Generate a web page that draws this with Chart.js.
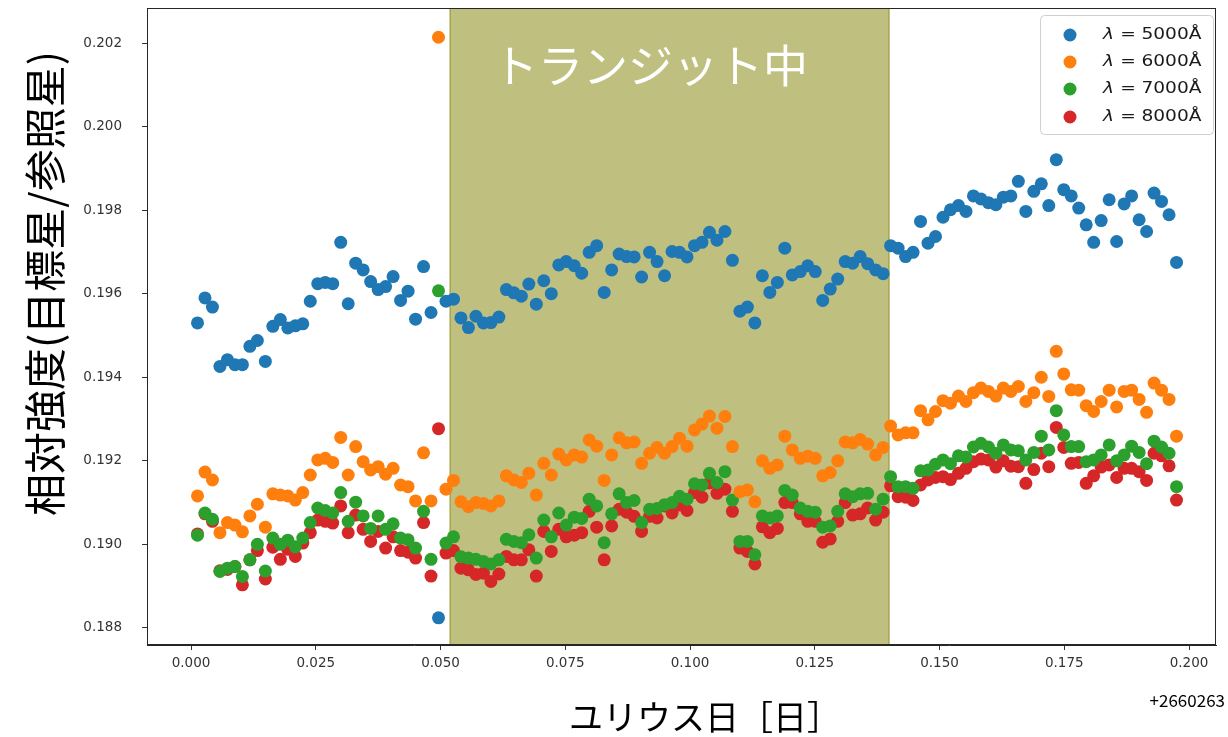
<!DOCTYPE html>
<html>
<head>
<meta charset="utf-8">
<script src="https://cdn.jsdelivr.net/npm/chart.js@4/dist/chart.umd.min.js"></script>
<style>
  html, body { margin: 0; padding: 0; background: #ffffff; }
  #wrap { width: 1228px; height: 737px; }
</style>
</head>
<body>
<div id="wrap"><canvas id="c" width="1228" height="737"></canvas></div>
<script>
// Observation times (JD - 2460263)
const times = [
  0.0013, 0.0028, 0.0043, 0.0058, 0.0073, 0.0088, 0.0103, 0.0118, 0.0133, 0.0149,
  0.0164, 0.0179, 0.0194, 0.0209, 0.0224, 0.0239, 0.0254, 0.0269, 0.0284, 0.0300,
  0.0315, 0.0330, 0.0345, 0.0360, 0.0375, 0.0390, 0.0405, 0.0420, 0.0435, 0.0450,
  0.0466, 0.0481, 0.0496, 0.0511, 0.0526, 0.0541, 0.0556, 0.0571, 0.0586, 0.0601,
  0.0617, 0.0632, 0.0647, 0.0662, 0.0677, 0.0692, 0.0707, 0.0722, 0.0737, 0.0752,
  0.0768, 0.0783, 0.0798, 0.0813, 0.0828, 0.0843, 0.0858, 0.0873, 0.0888, 0.0903,
  0.0919, 0.0934, 0.0949, 0.0964, 0.0979, 0.0994, 0.1009, 0.1024, 0.1039, 0.1054,
  0.1070, 0.1085, 0.1100, 0.1115, 0.1130, 0.1145, 0.1160, 0.1175, 0.1190, 0.1205,
  0.1221, 0.1236, 0.1251, 0.1266, 0.1281, 0.1296, 0.1311, 0.1326, 0.1341, 0.1356,
  0.1372, 0.1387, 0.1402, 0.1417, 0.1432, 0.1447, 0.1462, 0.1477, 0.1492, 0.1507,
  0.1522, 0.1538, 0.1553, 0.1568, 0.1583, 0.1598, 0.1613, 0.1628, 0.1643, 0.1658,
  0.1673, 0.1689, 0.1704, 0.1719, 0.1734, 0.1749, 0.1764, 0.1779, 0.1794, 0.1809,
  0.1824, 0.1840, 0.1855, 0.1870, 0.1885, 0.1900, 0.1915, 0.1930, 0.1945, 0.1960,
  0.1975
];

// Relative flux (target / reference) per wavelength
const flux5000 = [
  0.19530, 0.19590, 0.19568, 0.19426, 0.19442, 0.19430, 0.19430, 0.19474, 0.19488, 0.19438,
  0.19522, 0.19538, 0.19518, 0.19523, 0.19528, 0.19582, 0.19624, 0.19627, 0.19624, 0.19723,
  0.19576, 0.19673, 0.19657, 0.19629, 0.19610, 0.19617, 0.19641, 0.19584, 0.19606, 0.19539,
  0.19665, 0.19555, 0.18824, 0.19582, 0.19587, 0.19542, 0.19519, 0.19546, 0.19530, 0.19531,
  0.19544, 0.19610, 0.19602, 0.19594, 0.19623, 0.19575, 0.19631, 0.19600, 0.19669, 0.19677,
  0.19667, 0.19649, 0.19699, 0.19715, 0.19603, 0.19657, 0.19695, 0.19689, 0.19688, 0.19640,
  0.19699, 0.19677, 0.19643, 0.19701, 0.19699, 0.19688, 0.19715, 0.19723, 0.19747, 0.19728,
  0.19749, 0.19680, 0.19558, 0.19568, 0.19530, 0.19643, 0.19603, 0.19627, 0.19709, 0.19645,
  0.19653, 0.19667, 0.19653, 0.19584, 0.19611, 0.19635, 0.19677, 0.19673, 0.19689, 0.19672,
  0.19657, 0.19648, 0.19715, 0.19709, 0.19689, 0.19699, 0.19773, 0.19721, 0.19737, 0.19783,
  0.19801, 0.19811, 0.19797, 0.19834, 0.19827, 0.19818, 0.19813, 0.19831, 0.19834, 0.19869,
  0.19797, 0.19845, 0.19863, 0.19811, 0.19921, 0.19849, 0.19834, 0.19805, 0.19765, 0.19723,
  0.19775, 0.19825, 0.19725, 0.19815, 0.19834, 0.19777, 0.19749, 0.19841, 0.19821, 0.19789,
  0.19675
];
const flux6000 = [
  0.19116, 0.19173, 0.19154, 0.19028, 0.19052, 0.19046, 0.19030, 0.19068, 0.19096, 0.19041,
  0.19121, 0.19118, 0.19116, 0.19106, 0.19124, 0.19166, 0.19202, 0.19206, 0.19196, 0.19256,
  0.19166, 0.19234, 0.19198, 0.19178, 0.19186, 0.19168, 0.19182, 0.19142, 0.19138, 0.19104,
  0.19219, 0.19104, 0.20214, 0.19132, 0.19153, 0.19102, 0.19090, 0.19100, 0.19098, 0.19092,
  0.19104, 0.19164, 0.19154, 0.19148, 0.19170, 0.19118, 0.19194, 0.19166, 0.19216, 0.19202,
  0.19214, 0.19209, 0.19250, 0.19235, 0.19153, 0.19214, 0.19255, 0.19243, 0.19245, 0.19194,
  0.19218, 0.19232, 0.19218, 0.19234, 0.19254, 0.19235, 0.19274, 0.19288, 0.19307, 0.19278,
  0.19306, 0.19234, 0.19126, 0.19130, 0.19102, 0.19200, 0.19182, 0.19190, 0.19259, 0.19226,
  0.19206, 0.19211, 0.19206, 0.19164, 0.19172, 0.19200, 0.19245, 0.19243, 0.19251, 0.19240,
  0.19214, 0.19232, 0.19283, 0.19262, 0.19267, 0.19267, 0.19320, 0.19298, 0.19318, 0.19344,
  0.19338, 0.19355, 0.19342, 0.19363, 0.19374, 0.19366, 0.19355, 0.19374, 0.19366, 0.19378,
  0.19342, 0.19363, 0.19400, 0.19354, 0.19462, 0.19408, 0.19370, 0.19369, 0.19332, 0.19318,
  0.19342, 0.19369, 0.19329, 0.19366, 0.19369, 0.19347, 0.19316, 0.19386, 0.19369, 0.19347,
  0.19259
];
const flux7000 = [
  0.19022, 0.19075, 0.19060, 0.18935, 0.18943, 0.18947, 0.18923, 0.18963, 0.19000, 0.18936,
  0.19015, 0.19000, 0.19010, 0.18994, 0.19015, 0.19052, 0.19087, 0.19081, 0.19075, 0.19124,
  0.19055, 0.19101, 0.19068, 0.19038, 0.19068, 0.19036, 0.19049, 0.19015, 0.19011, 0.18991,
  0.19079, 0.18964, 0.19607, 0.19003, 0.19018, 0.18970, 0.18967, 0.18964, 0.18959, 0.18953,
  0.18963, 0.19012, 0.19007, 0.19004, 0.19023, 0.18967, 0.19058, 0.19018, 0.19075, 0.19046,
  0.19065, 0.19062, 0.19108, 0.19092, 0.19004, 0.19073, 0.19121, 0.19100, 0.19105, 0.19052,
  0.19084, 0.19086, 0.19095, 0.19100, 0.19115, 0.19108, 0.19145, 0.19142, 0.19170, 0.19148,
  0.19174, 0.19106, 0.19007, 0.19007, 0.18975, 0.19068, 0.19063, 0.19068, 0.19129, 0.19118,
  0.19087, 0.19079, 0.19077, 0.19041, 0.19044, 0.19079, 0.19121, 0.19114, 0.19121, 0.19122,
  0.19084, 0.19108, 0.19162, 0.19138, 0.19138, 0.19134, 0.19176, 0.19178, 0.19192, 0.19202,
  0.19193, 0.19212, 0.19209, 0.19233, 0.19242, 0.19233, 0.19218, 0.19238, 0.19226, 0.19224,
  0.19202, 0.19220, 0.19259, 0.19226, 0.19320, 0.19262, 0.19234, 0.19234, 0.19198, 0.19202,
  0.19214, 0.19238, 0.19200, 0.19214, 0.19235, 0.19220, 0.19193, 0.19247, 0.19233, 0.19218,
  0.19138
];
const flux8000 = [
  0.19025, 0.19073, 0.19055, 0.18937, 0.18940, 0.18947, 0.18903, 0.18963, 0.18985, 0.18917,
  0.18993, 0.18964, 0.18988, 0.18971, 0.19003, 0.19028, 0.19058, 0.19055, 0.19051, 0.19092,
  0.19028, 0.19070, 0.19036, 0.19007, 0.19031, 0.18991, 0.19018, 0.18985, 0.18981, 0.18967,
  0.19052, 0.18924, 0.19277, 0.18979, 0.18985, 0.18943, 0.18939, 0.18928, 0.18931, 0.18911,
  0.18929, 0.18971, 0.18963, 0.18963, 0.18987, 0.18924, 0.19031, 0.18983, 0.19036, 0.19018,
  0.19022, 0.19028, 0.19079, 0.19041, 0.18963, 0.19044, 0.19084, 0.19077, 0.19067, 0.19031,
  0.19067, 0.19063, 0.19092, 0.19075, 0.19094, 0.19081, 0.19124, 0.19113, 0.19147, 0.19122,
  0.19132, 0.19079, 0.18991, 0.18983, 0.18953, 0.19042, 0.19028, 0.19038, 0.19100, 0.19100,
  0.19073, 0.19055, 0.19055, 0.19005, 0.19013, 0.19055, 0.19100, 0.19070, 0.19073, 0.19087,
  0.19058, 0.19077, 0.19140, 0.19114, 0.19113, 0.19105, 0.19142, 0.19154, 0.19160, 0.19162,
  0.19155, 0.19170, 0.19182, 0.19198, 0.19204, 0.19202, 0.19185, 0.19200, 0.19187, 0.19186,
  0.19146, 0.19179, 0.19218, 0.19186, 0.19280, 0.19232, 0.19194, 0.19196, 0.19146, 0.19164,
  0.19185, 0.19190, 0.19160, 0.19182, 0.19182, 0.19174, 0.19153, 0.19218, 0.19212, 0.19188,
  0.19106
];

const seriesNames = ['5000', '6000', '7000', '8000'];
const seriesColors = ['#1f77b4', '#ff7f0e', '#2ca02c', '#d62728'];
const seriesValues = [flux5000, flux6000, flux7000, flux8000];

const transitWindow = [0.0519, 0.1399];
const transitLabel = 'トランジット中';
const xTickValues = [0.000, 0.025, 0.050, 0.075, 0.100, 0.125, 0.150, 0.175, 0.200];
const yTickValues = [0.188, 0.190, 0.192, 0.194, 0.196, 0.198, 0.200, 0.202];
const xTitle = 'ユリウス日［日］';
const yTitle = '相対強度(目標星/参照星)';
const xOffsetText = '+2660263';

const datasets = seriesValues.map((vals, k) => ({
  label: 'λ = ' + seriesNames[k] + 'Å',
  data: times.map((t, i) => ({ x: t, y: vals[i] })),
  backgroundColor: seriesColors[k],
  borderWidth: 0,
  pointRadius: 6.5,
  pointHoverRadius: 6.5
}));

const CJK = '"Noto Sans CJK JP", "Noto Sans", sans-serif';

const decorations = {
  id: 'decorations',
  beforeDatasetsDraw(chart) {
    const { ctx, chartArea: a, scales: { x } } = chart;
    const x0 = x.getPixelForValue(transitWindow[0]);
    const x1 = x.getPixelForValue(transitWindow[1]);
    ctx.save();
    ctx.fillStyle = 'rgba(128,128,0,0.5)';
    ctx.fillRect(x0, a.top, x1 - x0, a.bottom - a.top);
    ctx.strokeStyle = 'rgba(128,128,0,0.5)';
    ctx.lineWidth = 1.5;
    ctx.beginPath();
    ctx.moveTo(x0, a.top); ctx.lineTo(x0, a.bottom);
    ctx.moveTo(x1, a.top); ctx.lineTo(x1, a.bottom);
    ctx.stroke();
    ctx.restore();
  },
  afterDatasetsDraw(chart) {
    const { ctx, chartArea: a, scales: { x, y } } = chart;
    ctx.save();
    // label inside the transit band
    ctx.fillStyle = '#ffffff';
    ctx.font = '45px ' + CJK;
    ctx.textAlign = 'left';
    ctx.textBaseline = 'middle';
    ctx.fillText(transitLabel, x.getPixelForValue(0.0605), y.getPixelForValue(0.20146));

    // frame
    ctx.strokeStyle = '#262626';
    ctx.lineWidth = 1;
    ctx.strokeRect(a.left + 0.5, a.top + 0.5, a.right - a.left - 1, a.bottom - a.top - 1);

    // legend
    const lx = 1040, ly = 15, lw = 173, lh = 119;
    ctx.beginPath();
    ctx.roundRect(lx + 0.5, ly + 0.5, lw, lh, 4);
    ctx.fillStyle = 'rgba(255,255,255,0.8)';
    ctx.fill();
    ctx.strokeStyle = '#d0d0d0';
    ctx.stroke();
    const rowY = [35, 62, 89, 117];
    seriesNames.forEach((nm, k) => {
      ctx.beginPath();
      ctx.arc(1070, rowY[k], 6.5, 0, Math.PI * 2);
      ctx.fillStyle = seriesColors[k];
      ctx.fill();
      ctx.fillStyle = '#1a1a1a';
      ctx.textBaseline = 'middle';
      ctx.textAlign = 'left';
      ctx.save();
      ctx.translate(1103, rowY[k]);
      ctx.scale(1.24, 1);
      ctx.font = 'italic 15px "DejaVu Sans"';
      ctx.fillText('λ', 0, 0);
      ctx.font = '15px "DejaVu Sans"';
      ctx.fillText('=', 14, 0);
      ctx.fillText(nm + 'Å', 31, 0);
      ctx.restore();
    });

    // axis titles and offset
    ctx.fillStyle = '#000000';
    ctx.textAlign = 'left';
    ctx.textBaseline = 'middle';
    ctx.font = '34px ' + CJK;
    ctx.fillText(xTitle, 569, 717);
    ctx.save();
    ctx.translate(45, 516);
    ctx.rotate(-Math.PI / 2);
    ctx.font = '42px ' + CJK;
    ctx.fillText(yTitle, 0, 0);
    ctx.restore();
    ctx.textAlign = 'right';
    ctx.font = '17px ' + CJK;
    ctx.fillText(xOffsetText, 1225, 701);
    ctx.restore();
  }
};

new Chart(document.getElementById('c'), {
  type: 'scatter',
  data: { datasets },
  options: {
    responsive: false,
    animation: false,
    devicePixelRatio: 1,
    layout: { padding: { top: 8, right: 12, left: 0, bottom: 0 } },
    plugins: { legend: { display: false }, tooltip: { enabled: false } },
    scales: {
      x: {
        type: 'linear',
        min: -0.00882,
        max: 0.20541,
        afterFit(s) { s.height = 92; },
        afterBuildTicks(s) { s.ticks = xTickValues.map(v => ({ value: v })); },
        ticks: {
          callback: v => v.toFixed(3),
          font: { family: 'DejaVu Sans', size: 13.5 },
          color: '#333333',
          padding: 5,
          maxRotation: 0,
          autoSkip: false
        },
        grid: { drawOnChartArea: false, drawTicks: true, tickLength: 5, tickColor: '#333333' },
        border: { display: true, color: '#262626' }
      },
      y: {
        type: 'linear',
        min: 0.18759,
        max: 0.20284,
        afterFit(s) { s.width = 147; s.paddingTop = 0; s.paddingBottom = 0; },
        afterBuildTicks(s) { s.ticks = yTickValues.map(v => ({ value: v })); },
        ticks: {
          callback: v => v.toFixed(3),
          font: { family: 'DejaVu Sans', size: 13.5 },
          color: '#333333',
          padding: 20,
          autoSkip: false
        },
        grid: { drawOnChartArea: false, drawTicks: true, tickLength: 5, tickColor: '#333333' },
        border: { display: true, color: '#262626' }
      }
    }
  },
  plugins: [decorations]
});
</script>
</body>
</html>
